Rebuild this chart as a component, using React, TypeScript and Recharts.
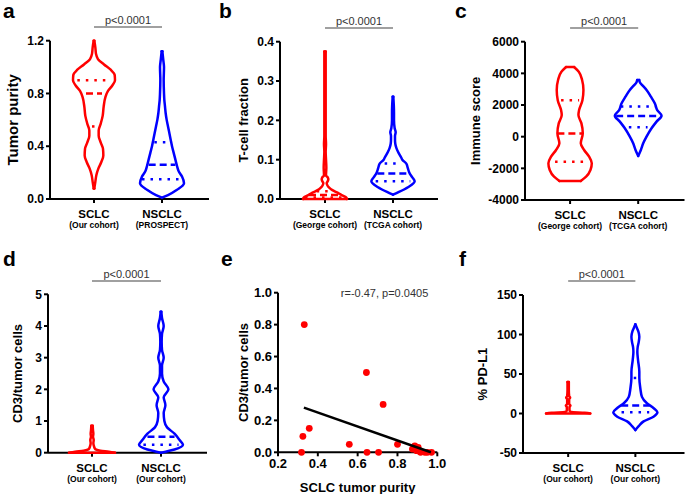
import React from 'react';
import { ScatterChart, Scatter, XAxis, YAxis, ReferenceLine, ReferenceDot } from 'recharts';

const FONT = '"Liberation Sans", Arial, Helvetica, sans-serif';
const RED = '#ff0000';
const BLUE = '#0000ff';
const DENSITY_TO_X = 1 / 204;

// ---------- shared labels ----------
const catNames = ['SCLC', 'NSCLC'];
const catTicks = [1, 2];
const aCohorts = ['(Our cohort)', '(PROSPECT)'];
const bCohorts = ['(George cohort)', '(TCGA cohort)'];
const cCohorts = ['(George cohort)', '(TCGA cohort)'];
const dCohorts = ['(Our cohort)', '(Our cohort)'];
const fCohorts = ['(Our cohort)', '(Our cohort)'];
const pText = 'p<0.0001';

// ---------- panel a: tumor purity ----------
const aTicks = [0, 0.4, 0.8, 1.2];
const aRedLevels = [0.08, 0.13, 0.18, 0.23, 0.28, 0.33, 0.38, 0.43, 0.48, 0.52, 0.57, 0.63, 0.70, 0.77, 0.82, 0.86, 0.90, 0.94, 0.98, 1.02, 1.06, 1.10, 1.15, 1.20];
const aRedDensity = [1, 4, 7, 13, 22, 28, 27, 20, 14, 14, 20, 26, 29, 34, 42, 55, 63, 62, 50, 30, 12, 6, 4, 1];
const aRedMedian = [0.80, 24];
const aRedQuart = [0.55, 0.90];
const aRedQuartW = [6, 50];
const aBlueLevels = [0.01, 0.03, 0.07, 0.12, 0.17, 0.21, 0.25, 0.30, 0.35, 0.40, 0.45, 0.50, 0.55, 0.60, 0.65, 0.70, 0.75, 0.80, 0.90, 1.00, 1.05, 1.12];
const aBlueDensity = [0, 18, 45, 66, 60, 50, 45, 40, 35, 30, 26, 22, 18, 14, 11, 9, 7, 6, 5, 6, 4, 1];
const aBlueMedian = [0.26, 40];
const aBlueQuart = [0.15, 0.43];
const aBlueQuartW = [60, 23];

// ---------- panel b: T-cell fraction ----------
const bTicks = [0, 0.1, 0.2, 0.3, 0.4];
const bRedLevels = [0, 0.005, 0.01, 0.015, 0.02, 0.025, 0.03, 0.035, 0.04, 0.045, 0.05, 0.055, 0.06, 0.08, 0.1, 0.12, 0.14, 0.16, 0.2, 0.3, 0.375];
const bRedDensity = [66, 62, 50, 40, 28, 18, 11, 7, 5, 8, 10, 8, 3, 4, 3, 2, 3, 2, 2, 2, 2];
const bRedMedian = [0.01, 48];
const bRedQuart = [0.004, 0.02];
const bRedQuartW = [60, 25];
const bBlueLevels = [0.011, 0.018, 0.03, 0.045, 0.055, 0.065, 0.08, 0.09, 0.1, 0.105, 0.12, 0.13, 0.14, 0.15, 0.16, 0.17, 0.18, 0.2, 0.22, 0.26];
const bBlueDensity = [0, 18, 45, 65, 58, 50, 44, 40, 28, 25, 15, 10, 7, 6, 6, 8, 5, 3, 3, 1];
const bBlueMedian = [0.065, 47];
const bBlueQuart = [0.045, 0.09];
const bBlueQuartW = [52, 25];

// ---------- panel c: immune score ----------
const cTicks = [-4000, -2000, 0, 2000, 4000, 6000];
const cRedLevels = [-2800, -2530, -2100, -1680, -1260, -840, -420, 210, 840, 1370, 1680, 2300, 2950, 3580, 4100, 4400];
const cRedDensity = [32, 48, 61, 65, 57, 42, 32, 38, 34, 25, 27, 37, 40, 36, 26, 12];
const cRedMedian = [200, 38];
const cRedQuart = [-1580, 2300];
const cRedQuartW = [45, 27];
const cBlueLevels = [-1220, -840, -420, 0, 530, 950, 1330, 1680, 2100, 2530, 2950, 3260, 3400, 3580];
const cBlueDensity = [0, 8, 15, 25, 40, 55, 70, 57, 50, 38, 25, 12, 6, 3];
const cBlueMedian = [1300, 66];
const cBlueQuart = [600, 1900];
const cBlueQuartW = [28, 52];

// ---------- panel d: CD3/tumor cells ----------
const dTicks = [0, 1, 2, 3, 4, 5];
const dRedLevels = [0, 0.03, 0.06, 0.1, 0.14, 0.2, 0.3, 0.4, 0.5, 0.6, 0.7, 0.85];
const dRedDensity = [68, 50, 25, 12, 8, 6, 4, 5, 3, 4, 3, 2];
const dBlueLevels = [0, 0.1, 0.25, 0.4, 0.6, 0.8, 1.0, 1.25, 1.5, 1.75, 2.0, 2.25, 2.5, 2.75, 3.0, 3.25, 3.5, 3.75, 4.0, 4.25, 4.45];
const dBlueDensity = [0, 40, 65, 55, 40, 18, 10, 8, 13, 8, 22, 8, 3, 3, 8, 3, 2, 3, 8, 3, 1];
const dBlueMedian = [0.5, 40];
const dBlueQuart = [0.25];
const dBlueQuartW = [52];

// ---------- panel e: correlation ----------
const eXTicks = [0.2, 0.4, 0.6, 0.8, 1.0];
const eYTicks = [0, 0.2, 0.4, 0.6, 0.8, 1.0];
const ePurity = [0.332, 0.644, 0.728, 0.357, 0.325, 0.318, 0.558, 0.647, 0.705, 0.80, 0.887, 0.875, 0.896, 0.904, 0.912, 0.916, 0.938, 0.95, 0.971];
const eCD3 = [0.80, 0.50, 0.30, 0.15, 0.10, 0, 0.05, 0, 0, 0.05, 0.04, 0.02, 0.01, 0.03, 0.005, 0, 0, 0, 0];
const eFitX = [0.33, 0.968];
const eFitY = [0.28, 0.0];
const eStats = 'r=-0.47, p=0.0405';

// ---------- panel f: PD-L1 ----------
const fTicks = [-50, 0, 50, 100, 150];
const fRedLevels = [0, 1, 2, 4, 8, 10, 12, 18, 20, 22, 30, 40];
const fRedDensity = [67, 50, 8, 4, 4, 7, 3, 3, 6, 3, 2, 2];
const fBlueLevels = [-21, -16, -10, -4, 1.5, 7, 13, 21, 32, 45, 53, 68, 78, 84, 90, 97, 104, 108, 113];
const fBlueDensity = [0, 10, 25, 55, 67, 55, 35, 20, 15, 12, 12, 8, 6, 7, 10, 12, 9, 5, 0];
const fBlueMedian = [10, 43];
const fBlueQuart = [1.5, 45];
const fBlueQuartW = [42, 5];

// ---------- helpers ----------
const noShape = () => <g />;

function violin(
  id: string,
  center: number,
  levels: number[],
  density: number[],
  color: string,
  median?: number[],
  quart: number[] = [],
  quartW: number[] = []
) {
  const out: React.ReactNode[] = [];
  const side = (sign: number) =>
    levels.map((v, i) => ({ x: center + sign * density[i] * DENSITY_TO_X, y: v }));
  const ls = { stroke: color, strokeWidth: 2.5, strokeLinejoin: 'round', strokeLinecap: 'round' };
  out.push(
    <Scatter key={id + 'R'} data={side(1)} line={ls} lineJointType="monotoneY" shape={noShape} isAnimationActive={false} />
  );
  out.push(
    <Scatter key={id + 'L'} data={side(-1)} line={ls} lineJointType="monotoneY" shape={noShape} isAnimationActive={false} />
  );
  [0, levels.length - 1].forEach((i) => {
    if (density[i] > 0) {
      const w = density[i] * DENSITY_TO_X;
      out.push(
        <Scatter
          key={id + 'cap' + i}
          data={[{ x: center - w, y: levels[i] }, { x: center + w, y: levels[i] }]}
          line={ls}
          shape={noShape}
          isAnimationActive={false}
        />
      );
    }
  });
  if (median) {
    const w = median[1] * DENSITY_TO_X;
    out.push(
      <Scatter
        key={id + 'med'}
        data={[{ x: center - w, y: median[0] }, { x: center + w, y: median[0] }]}
        line={{ stroke: color, strokeWidth: 2.5, strokeDasharray: '7 4' }}
        shape={noShape}
        isAnimationActive={false}
      />
    );
  }
  quart.forEach((q, i) => {
    const w = quartW[i] * DENSITY_TO_X;
    out.push(
      <Scatter
        key={id + 'q' + i}
        data={[{ x: center - w, y: q }, { x: center + w, y: q }]}
        line={{ stroke: color, strokeWidth: 2.5, strokeDasharray: '2.5 6' }}
        shape={noShape}
        isAnimationActive={false}
      />
    );
  });
  return out;
}

const makeCatTick = (subs: string[]) => (p: any) => {
  const i = Math.round(p.payload.value) - 1;
  return (
    <g>
      <text x={p.x} y={p.y + 13} textAnchor="middle" fontFamily={FONT} fontWeight="bold" fontSize={11.5} fill="#000">
        {catNames[i]}
      </text>
      <text x={p.x} y={p.y + 23} textAnchor="middle" fontFamily={FONT} fontWeight="bold" fontSize={8.5} fill="#000">
        {subs[i]}
      </text>
    </g>
  );
};

const yTitle = (text: string, cx: number, size: number) => (p: any) => {
  const vb = p.viewBox || { y: 0, height: 0 };
  const cy = vb.y + vb.height / 2;
  return (
    <text
      x={cx}
      y={cy}
      transform={`rotate(-90 ${cx} ${cy})`}
      textAnchor="middle"
      dominantBaseline="central"
      fontFamily={FONT}
      fontWeight="bold"
      fontSize={size}
      fill="#000"
    >
      {text}
    </text>
  );
};

const axisLineStyle = { stroke: '#000', strokeWidth: 2 };

type PanelCfg = {
  left: number;
  top: number;
  width: number;
  height: number;
  yAxisW: number;
  mTop: number;
  mRight: number;
  xAxisH: number;
  xDomain: [number, number];
  yDomain: [number, number];
  yTicks: number[];
  yFmt: (v: number) => string;
  tickSize: number;
  title: string;
  titleX: number;
  titleSize: number;
  cohorts: string[];
  bracketY: number;
  series: React.ReactNode[];
};

function ViolinPanel(c: PanelCfg) {
  return (
    <div style={{ position: 'absolute', left: c.left, top: c.top }}>
      <ScatterChart width={c.width} height={c.height} margin={{ top: c.mTop, right: c.mRight, bottom: 0, left: 0 }}>
        <XAxis
          type="number"
          dataKey="x"
          domain={c.xDomain}
          ticks={catTicks}
          interval={0}
          height={c.xAxisH}
          axisLine={axisLineStyle}
          tickLine={axisLineStyle}
          tickSize={4}
          tickMargin={2}
          tick={makeCatTick(c.cohorts)}
        />
        <YAxis
          type="number"
          dataKey="y"
          domain={c.yDomain}
          ticks={c.yTicks}
          interval={0}
          width={c.yAxisW}
          axisLine={axisLineStyle}
          tickLine={axisLineStyle}
          tickSize={4}
          tickMargin={2}
          tickFormatter={c.yFmt}
          tick={{ fill: '#000', fontSize: c.tickSize, fontWeight: 'bold', fontFamily: FONT }}
          label={yTitle(c.title, c.titleX, c.titleSize)}
        />
        {c.series}
        <ReferenceLine
          segment={[{ x: 1, y: c.bracketY }, { x: 2, y: c.bracketY }]}
          stroke="#808080"
          strokeWidth={1.5}
          ifOverflow="visible"
          label={{ value: pText, position: 'top', offset: 3, fill: '#333', fontSize: 11, fontFamily: FONT }}
        />
      </ScatterChart>
    </div>
  );
}

const f1 = (v: number) => v.toFixed(1);
const f0 = (v: number) => String(Math.round(v));

const ePoints = ePurity.map((x, i) => ({ x, y: eCD3[i] }));
const eFit = eFitX.map((x, i) => ({ x, y: eFitY[i] }));

const letters = [
  { t: 'a', x: 3, y: 18 },
  { t: 'b', x: 219, y: 18 },
  { t: 'c', x: 455, y: 18 },
  { t: 'd', x: 3, y: 266 },
  { t: 'e', x: 221, y: 266 },
  { t: 'f', x: 459, y: 266 },
];

export default function App() {
  return (
    <div style={{ position: 'absolute', left: 0, top: 0, width: 685, height: 494, background: '#fff', fontFamily: FONT }}>
      <ViolinPanel
        left={0}
        top={0}
        width={225}
        height={240}
        yAxisW={50}
        mTop={40.7}
        mRight={16}
        xAxisH={41}
        xDomain={[0.353, 2.691]}
        yDomain={[0, 1.2]}
        yTicks={aTicks}
        yFmt={f1}
        tickSize={12}
        title="Tumor purity"
        titleX={13}
        titleSize={15}
        cohorts={aCohorts}
        bracketY={1.304}
        series={[
          ...violin('aR', 1, aRedLevels, aRedDensity, RED, aRedMedian, aRedQuart, aRedQuartW),
          ...violin('aB', 2, aBlueLevels, aBlueDensity, BLUE, aBlueMedian, aBlueQuart, aBlueQuartW),
        ]}
      />
      <ViolinPanel
        left={225}
        top={0}
        width={230}
        height={240}
        yAxisW={55}
        mTop={41.7}
        mRight={17}
        xAxisH={41}
        xDomain={[0.338, 2.662]}
        yDomain={[0, 0.4]}
        yTicks={bTicks}
        yFmt={f1}
        tickSize={12}
        title="T-cell fraction"
        titleX={19}
        titleSize={13}
        cohorts={bCohorts}
        bracketY={0.435}
        series={[
          ...violin('bR', 1, bRedLevels, bRedDensity, RED, bRedMedian, bRedQuart, bRedQuartW),
          ...violin('bB', 2, bBlueLevels, bBlueDensity, BLUE, bBlueMedian, bBlueQuart, bBlueQuartW),
        ]}
      />
      <ViolinPanel
        left={455}
        top={0}
        width={230}
        height={240}
        yAxisW={70}
        mTop={41.7}
        mRight={0.5}
        xAxisH={40}
        xDomain={[0.338, 2.68]}
        yDomain={[-4000, 6000]}
        yTicks={cTicks}
        yFmt={f0}
        tickSize={12}
        title="Immune score"
        titleX={21}
        titleSize={13}
        cohorts={cCohorts}
        bracketY={6865}
        series={[
          ...violin('cR', 1, cRedLevels, cRedDensity, RED, cRedMedian, cRedQuart, cRedQuartW),
          ...violin('cB', 2, cBlueLevels, cBlueDensity, BLUE, cBlueMedian, cBlueQuart, cBlueQuartW),
        ]}
      />
      <ViolinPanel
        left={0}
        top={245}
        width={225}
        height={249}
        yAxisW={48}
        mTop={49.3}
        mRight={18}
        xAxisH={41.3}
        xDomain={[0.362, 2.667]}
        yDomain={[0, 5]}
        yTicks={dTicks}
        yFmt={f0}
        tickSize={12}
        title="CD3/tumor cells"
        titleX={17}
        titleSize={13}
        cohorts={dCohorts}
        bracketY={5.42}
        series={[
          ...violin('dR', 1, dRedLevels, dRedDensity, RED),
          ...violin('dB', 2, dBlueLevels, dBlueDensity, BLUE, dBlueMedian, dBlueQuart, dBlueQuartW),
        ]}
      />
      <div style={{ position: 'absolute', left: 225, top: 245 }}>
        <ScatterChart width={230} height={249} margin={{ top: 47.7, right: 17.7, bottom: 0, left: 0 }}>
          <XAxis
            type="number"
            dataKey="x"
            domain={[0.2, 1.0]}
            ticks={eXTicks}
            interval={0}
            height={41.7}
            axisLine={axisLineStyle}
            tickLine={axisLineStyle}
            tickSize={4}
            tickMargin={2}
            tickFormatter={f1}
            tick={{ fill: '#000', fontSize: 13, fontWeight: 'bold', fontFamily: FONT }}
            label={{ value: 'SCLC tumor purity', position: 'insideBottom', offset: 2, fill: '#000', fontSize: 13, fontWeight: 'bold', fontFamily: FONT }}
          />
          <YAxis
            type="number"
            dataKey="y"
            domain={[0, 1.0]}
            ticks={eYTicks}
            interval={0}
            width={53}
            axisLine={axisLineStyle}
            tickLine={axisLineStyle}
            tickSize={4}
            tickMargin={2}
            tickFormatter={f1}
            tick={{ fill: '#000', fontSize: 13, fontWeight: 'bold', fontFamily: FONT }}
            label={yTitle('CD3/tumor cells', 18, 13)}
          />
          <Scatter
            data={ePoints}
            isAnimationActive={false}
            shape={(p: any) => <circle cx={p.cx} cy={p.cy} r={3.4} fill={RED} />}
          />
          <Scatter
            data={eFit}
            line={{ stroke: '#000', strokeWidth: 2.5 }}
            shape={noShape}
            isAnimationActive={false}
          />
          <ReferenceDot
            x={0.735}
            y={1.0}
            r={0}
            fill="none"
            stroke="none"
            label={{ value: eStats, position: 'center', fill: '#333', fontSize: 11, fontFamily: FONT }}
          />
        </ScatterChart>
      </div>
      <ViolinPanel
        left={455}
        top={245}
        width={230}
        height={249}
        yAxisW={68}
        mTop={50}
        mRight={0.5}
        xAxisH={41}
        xDomain={[0.328, 2.731]}
        yDomain={[-50, 150]}
        yTicks={fTicks}
        yFmt={f0}
        tickSize={12}
        title="% PD-L1"
        titleX={27}
        titleSize={13}
        cohorts={fCohorts}
        bracketY={167.7}
        series={[
          ...violin('fR', 1, fRedLevels, fRedDensity, RED),
          ...violin('fB', 2, fBlueLevels, fBlueDensity, BLUE, fBlueMedian, fBlueQuart, fBlueQuartW),
        ]}
      />
      <svg width={685} height={494} style={{ position: 'absolute', left: 0, top: 0, pointerEvents: 'none' }}>
        {letters.map((l) => (
          <text key={l.t} x={l.x} y={l.y} fontFamily={FONT} fontWeight="bold" fontSize={21} fill="#000">
            {l.t}
          </text>
        ))}
      </svg>
    </div>
  );
}
